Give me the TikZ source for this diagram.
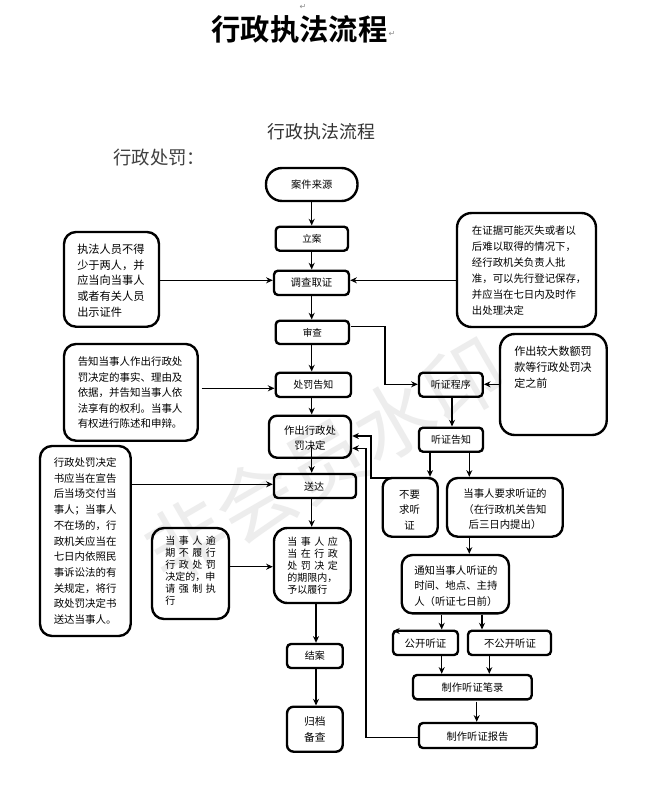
\documentclass[tikz,border=0pt]{standalone}
\usepackage{fontspec}
\setmainfont{Noto Sans CJK SC}
\newfontfamily\cjkbold{Noto Sans CJK SC Bold}
\newfontfamily\dejavu{DejaVu Sans}
\usetikzlibrary{arrows.meta,calc}
\definecolor{mark}{gray}{0.55}
\tikzset{
  bx/.style={draw=black,line width=1.8pt,rounded corners=3pt,inner sep=0pt},
  txt/.style={inner sep=0pt,align=left},
  lab/.style={inner sep=0pt,align=center},
  conn/.style={draw=black,line width=1.05pt,-{Stealth[length=5pt,width=4.5pt]}}
}
\newcommand{\fs}[2]{\fontsize{#1}{#2}\selectfont}
\newcommand{\gp}{\kern2.67pt\relax}
\newcommand{\bxat}[7][]{\node[#2,minimum width=#5*0.75pt-#3*0.75pt,minimum height=#6*0.75pt-#4*0.75pt,#1] (#7) at ({(#3+#5)/2},{(#4+#6)/2}) {};}
\begin{document}
\begin{tikzpicture}[x=0.75pt,y=-0.75pt]
\useasboundingbox (0,0) rectangle (646,796);
\fill[white] (0,0) rectangle (646,796);
% watermark
\node[rotate=30,text=black!7,font=\fs{60}{60},inner sep=0pt] (wm) at (325,460) {非会员水印};
% titles
\node[inner sep=0pt,font=\cjkbold\fs{22}{22}] (t1) at (299.5,29) {行政执法流程};
\node[inner sep=0pt,text=mark,font=\dejavu\fs{6}{6}] (r1) at (303,7) {↵};
\node[inner sep=0pt,text=mark,font=\dejavu\fs{6}{6}] (r2) at (392,34) {↵};
\node[inner sep=0pt,text=black!80,font=\fs{13.4}{14}] (t2) at (321.5,131.5) {行政执法流程};
\node[inner sep=0pt,text=black!75,font=\fs{13.8}{14},anchor=west] (t3) at (113,157.5) {行政处罚：};
% main column
\bxat[rounded corners=12pt]{bx}{266}{168}{357.5}{201}{src}
\node[lab,font=\fs{7.7}{8}] (srct) at (src) {案件来源};
\bxat{bx}{275.7}{226.7}{348}{250.7}{la}
\node[lab,font=\fs{7.2}{8}] (lat) at (la) {立案};
\bxat{bx}{274}{270.7}{349}{295}{dc}
\node[lab,font=\fs{7.8}{8}] (dct) at (dc) {调查取证};
\bxat{bx}{275.7}{320.7}{349}{344}{sc}
\node[lab,font=\fs{7.2}{8}] (sct) at (sc) {审查};
\bxat{bx}{275.7}{372.7}{351}{397}{cf}
\node[lab,font=\fs{7.5}{8}] (cft) at (cf) {处罚告知};
\bxat[rounded corners=6pt]{bx}{269}{415.7}{351}{457.7}{jd}
\node[lab,font=\fs{7.8}{11.5}] (jdt) at (310,438) {作出行政处\\罚决定};
\bxat{bx}{274}{474}{356}{498}{sd}
\node[lab,font=\fs{7.5}{8}] (sdt) at (314,487) {送达};
\bxat[rounded corners=10pt]{bx}{274}{528}{350.7}{603}{lx}
\node[txt,font=\fs{7.5}{9},anchor=west] (lxt) at (287,566) {当\gp 事\gp 人\gp 应\\当\gp 在\gp 行\gp 政\\处\gp 罚\gp 决\gp 定\\的期限内，\\予以履行};
\bxat{bx}{287}{644}{342.7}{668}{ja}
\node[lab,font=\fs{7.5}{8}] (jat) at (ja) {结案};
\bxat[rounded corners=5pt]{bx}{287}{706.7}{342.7}{751.7}{gd}
\node[lab,font=\fs{8}{12}] (gdt) at (gd) {归档\\备查};
% left notes
\bxat[rounded corners=9pt]{bx}{64}{232}{159}{326.7}{n1}
\node[txt,font=\fs{8.4}{11.8},anchor=west] (n1t) at (77,280.7) {执法人员不得\\少于两人，并\\应当向当事人\\或者有关人员\\出示证件};
\bxat[rounded corners=9pt]{bx}{64}{344}{197.7}{440.7}{n2}
\node[txt,font=\fs{7.85}{11.7},anchor=west] (n2t) at (77.5,392.7) {告知当事人作出行政处\\罚决定的事实、理由及\\依据，并告知当事人依\\法享有的权利。当事人\\有权进行陈述和申辩。};
\bxat[rounded corners=9pt]{bx}{40}{446}{130.7}{636}{n3}
\node[txt,font=\fs{7.85}{11.8},anchor=west] (n3t) at (53.5,541) {行政处罚决定\\书应当在宣告\\后当场交付当\\事人；当事人\\不在场的，行\\政机关应当在\\七日内依照民\\事诉讼法的有\\关规定，将行\\政处罚决定书\\送达当事人。};
\bxat[rounded corners=9pt]{bx}{152}{528}{229}{619}{n4}
\node[txt,font=\fs{7.5}{9.1},anchor=north west] (n4t) at (165,535.5) {当\gp 事\gp 人\gp 逾\\期\gp 不\gp 履\gp 行\\行\gp 政\gp 处\gp 罚\\决定的，申\\请\gp 强\gp 制\gp 执\\行};
% right notes
\bxat[rounded corners=11pt]{bx}{457}{213}{596}{327}{n5}
\node[txt,font=\fs{7.8}{12},anchor=west] (n5t) at (471.7,271) {在证据可能灭失或者以\\后难以取得的情况下，\\经行政机关负责人批\\准，可以先行登记保存，\\并应当在七日内及时作\\出处理决定};
\bxat[rounded corners=11pt]{bx}{500}{334}{606.7}{435}{n6}
\node[txt,font=\fs{8.3}{11.9},anchor=north west] (n6t) at (514,346) {作出较大数额罚\\款等行政处罚决\\定之前};
% hearing branch
\bxat{bx}{419}{372.7}{482.7}{396.7}{tc}
\node[lab,font=\fs{7.5}{8}] (tct) at (tc) {听证程序};
\bxat{bx}{419}{427.7}{483}{451.7}{tg}
\node[lab,font=\fs{7.5}{8}] (tgt) at (tg) {听证告知};
\bxat[rounded corners=7pt]{bx}{382.7}{478}{437.7}{536.7}{by}
\node[lab,font=\fs{7.8}{11.6}] (byt) at (409.5,509.7) {不要\\求听\\证};
\bxat[rounded corners=8pt]{bx}{447}{478}{562.7}{536.7}{yq}
\node[lab,font=\fs{7.8}{11.6}] (yqt) at (505,509.5) {当事人要求听证的\\（在行政机关告知\\后三日内提出）};
\bxat[rounded corners=8pt]{bx}{401.7}{555}{509}{613.3}{tz}
\node[txt,font=\fs{7.8}{11.6},anchor=west] (tzt) at (414,586) {通知当事人听证的\\时间、地点、主持\\人（听证七日前）};
\bxat{bx}{393}{630.7}{458}{655}{gk}
\node[lab,font=\fs{7.8}{8}] (gkt) at (425.5,643.5) {公开听证};
\bxat{bx}{468}{630.7}{551}{655}{bg}
\node[lab,font=\fs{7.8}{8}] (bgt) at (510,643.5) {不公开听证};
\bxat{bx}{413}{675}{531.7}{699.3}{bl}
\node[lab,font=\fs{7.7}{8}] (blt) at (472.5,688) {制作听证笔录};
\bxat{bx}{419}{723}{536.7}{748}{bb}
\node[lab,font=\fs{7.7}{8}] (bbt) at (477.5,737) {制作听证报告};
% connectors main
\draw[conn] (src.south -| 311.7,0) -- (la.north -| 311.7,0);
\draw[conn] (la.south -| 311.7,0) -- (dc.north -| 311.7,0);
\draw[conn] (dc.south -| 311.7,0) -- (sc.north -| 311.7,0);
\draw[conn] (sc.south -| 311.7,0) -- (cf.north -| 311.7,0);
\draw[conn] (cf.south -| 311.7,0) -- (jd.north -| 311.7,0);
\draw[conn] (311.7,447) -- (sd.north -| 311.7,0);
\draw[conn] (sd.south -| 311.7,0) -- (lx.north -| 311.7,0);
\draw[conn] (lx.south -| 316,0) -- (ja.north -| 316,0);
\draw[conn] (ja.south -| 316,0) -- (gd.north -| 316,0);
% note arrows
\draw[conn] (n1.east |- 0,280.3) -- (dc.west |- 0,280.3);
\draw[conn] (n5.west |- 0,280.3) -- (dc.east |- 0,280.3);
\draw[conn] (201.7,388.3) -- (cf.west |- 0,388.3);
\draw[conn] (n3.east |- 0,484.3) -- (sd.west |- 0,484.3);
\draw[conn] (n4.east |- 0,566.7) -- (lx.west |- 0,566.7);
\draw[conn] (n6.west |- 0,384.3) -- (tc.east |- 0,384.3);
\draw[conn] (351,326.7) -- (385,326.7) -- (385,384.3) -- (tc.west |- 0,384.3);
% hearing arrows
\draw[conn] (tc.south -| 452,0) -- (tg.north -| 452,0);
\draw[conn] (tg.south -| 430,0) -- (by.north -| 430,0);
\draw[conn] (tg.south -| 469.3,0) -- (yq.north -| 469.3,0);
\draw[conn] (yq.south -| 469.3,0) -- (tz.north -| 469.3,0);
\draw[conn] (tz.south -| 441.7,0) -- (gk.north -| 441.7,0);
\draw[conn] (tz.south -| 482,0) -- (bg.north -| 482,0);
\draw[conn] (gk.south -| 441.7,0) -- (bl.north -| 441.7,0);
\draw[conn] (bg.south -| 489.3,0) -- (bl.north -| 489.3,0);
\draw[conn] (476.7,701.7) -- (bb.north -| 476.7,0);
% stray tip on the public hearing box
\draw[conn] (397,631) -- (393,631);
% return lines
\draw[conn] (392,478) -- (371,478) -- (371,436) -- (jd.east |- 0,436);
\draw[conn] (bb.west |- 0,737.3) -- (366,737.3) -- (366,448.3) -- (jd.east |- 0,448.3);
\end{tikzpicture}
\end{document}
